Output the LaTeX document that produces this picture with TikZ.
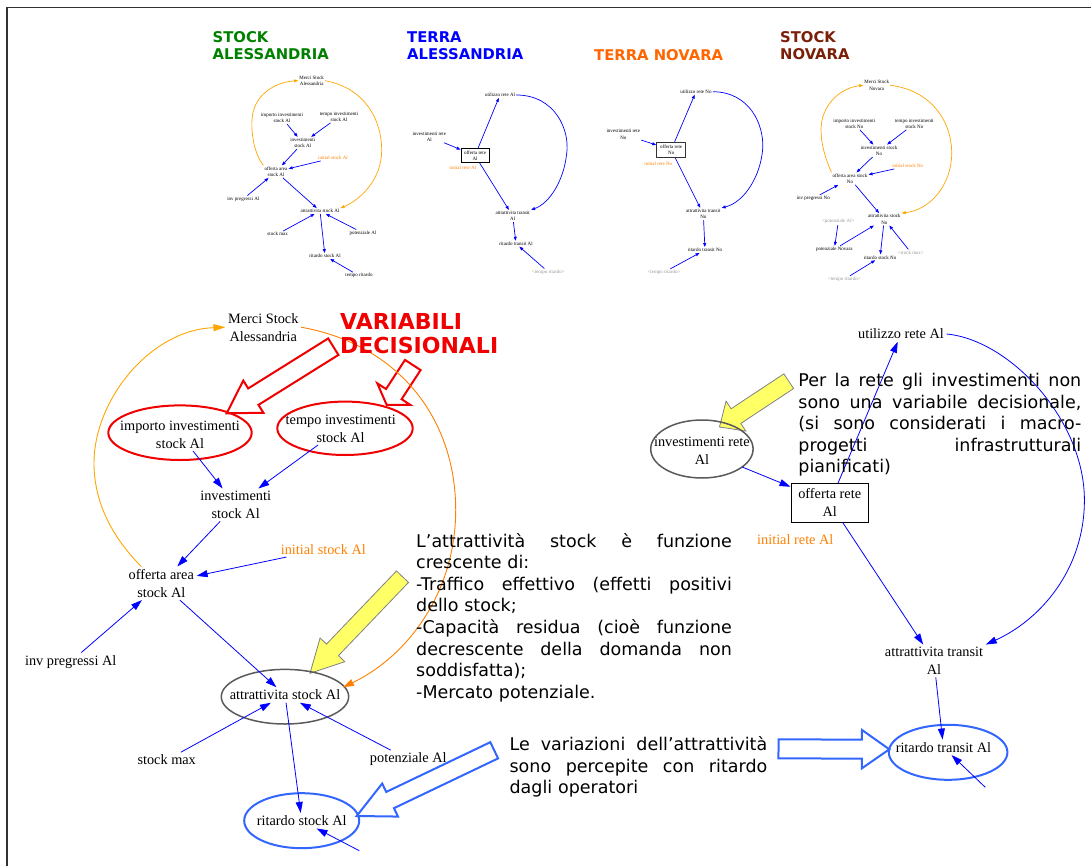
\documentclass[tikz,border=0pt]{standalone}
\usepackage{fontspec}
\setmainfont{Liberation Serif}
\newfontfamily\vsans{DejaVu Sans}
\usetikzlibrary{arrows.meta}
\definecolor{arrblue}{RGB}{0,0,255}
\definecolor{lblue}{RGB}{51,102,255}
\definecolor{oarcA}{RGB}{255,165,0}
\definecolor{oarcB}{RGB}{255,128,0}
\definecolor{otext}{RGB}{255,128,0}
\definecolor{ellgray}{RGB}{90,90,90}
\definecolor{redv}{RGB}{240,0,0}
\definecolor{yfill}{RGB}{255,255,102}
\definecolor{tgreen}{RGB}{0,128,0}
\definecolor{tblue}{RGB}{0,0,255}
\definecolor{torange}{RGB}{255,102,0}
\definecolor{tbrown}{RGB}{122,32,8}
\definecolor{ghost}{RGB}{150,150,150}
\definecolor{framec}{RGB}{50,50,50}
% justified line of given width
\newcommand{\jline}[2]{\leavevmode\hbox to #1{\spaceskip=0.32em plus 1fil minus 0.12em\relax #2}}
% block arrow: #1 style, (#2,#3) tail, (#4,#5) tip, #6 shaft half width, #7 head half width, #8 head length
\newcommand{\blockarrow}[8]{%
  \pgfmathsetmacro\BAl{veclen(#4-#2,#5-#3)}%
  \pgfmathsetmacro\BAux{(#4-#2)/\BAl}%
  \pgfmathsetmacro\BAuy{(#5-#3)/\BAl}%
  \pgfmathsetmacro\BAhx{#4-#8*\BAux}%
  \pgfmathsetmacro\BAhy{#5-#8*\BAuy}%
  \draw[#1] ({#2-#6*\BAuy},{#3+#6*\BAux}) -- ({\BAhx-#6*\BAuy},{\BAhy+#6*\BAux}) -- ({\BAhx-#7*\BAuy},{\BAhy+#7*\BAux}) -- (#4,#5) -- ({\BAhx+#7*\BAuy},{\BAhy-#7*\BAux}) -- ({\BAhx+#6*\BAuy},{\BAhy-#6*\BAux}) -- ({#2+#6*\BAuy},{#3-#6*\BAux}) -- cycle;}
\begin{document}
\begin{tikzpicture}[x=1pt,y=-1pt,
  sm/.style={font=\fontsize{5}{6.5}\selectfont, align=center, inner sep=1pt},
  tx/.style={font=\fontsize{14.3}{18}\selectfont, align=center, inner sep=2.5pt},
  ttl/.style={font=\vsans\bfseries\fontsize{14.8}{17}\selectfont, align=left, anchor=west, inner sep=0pt},
  para/.style={font=\vsans\fontsize{17.5}{21.6}\selectfont, align=left, anchor=base west, inner sep=0pt},
  sarr/.style={draw=arrblue, line width=0.7pt, -{Triangle[length=4pt,width=3pt]}},
  soarr/.style={draw=oarcA, line width=0.7pt, -{Triangle[length=4pt,width=3pt]}},
  barr/.style={draw=arrblue, line width=0.8pt, -{Triangle[length=11pt,width=7pt]}},
  oarrA/.style={draw=oarcA, line width=0.9pt, -{Triangle[length=12pt,width=7pt]}},
  oarrB/.style={draw=oarcB, line width=0.9pt, -{Triangle[length=11pt,width=7pt]}},
  redell/.style={draw=redv, line width=2pt},
  grayell/.style={draw=ellgray, line width=1.5pt},
  blueell/.style={draw=lblue, line width=2pt},
  redbarrow/.style={draw=redv, fill=white, line width=2pt, line join=miter},
  bluebarrow/.style={draw=lblue, fill=white, line width=2pt, line join=miter},
  ybarrow/.style={draw=gray, fill=yfill, line width=0.8pt, line join=miter},
]
\useasboundingbox (0,0) rectangle (1091,866);
\draw[framec, line width=1.5pt] (6.8,866) -- (6.8,7.3) -- (1091,7.3);

% ---------- titles ----------
\node[ttl, text=tgreen] (t1) at (212.5,46) {STOCK\\ALESSANDRIA};
\node[ttl, text=tblue] (t2) at (407,46) {TERRA\\ALESSANDRIA};
\node[ttl, text=torange] (t3) at (594,54.7) {TERRA NOVARA};
\node[ttl, text=tbrown] (t4) at (780,46) {STOCK\\NOVARA};

% ---------- small diagram 1 ----------
\node[sm] (a1merci) at (311.7,80.7) {Merci Stock\\Alessandria};
\node[sm] (a1imp) at (282,118) {importo investimenti\\stock Al};
\node[sm] (a1tempo) at (339,116.7) {tempo investimenti\\stock Al};
\node[sm] (a1inv) at (302.7,143) {investimenti\\stock Al};
\node[sm, text=otext] (a1init) at (333,158) {initial stock Al};
\node[sm] (a1off) at (276,171.7) {offerta area\\stock Al};
\node[sm] (a1pre) at (243.3,199) {inv pregressi Al};
\node[sm] (a1att) at (320,211) {attrattivita stock Al};
\node[sm] (a1max) at (277.7,234) {stock max};
\node[sm] (a1pot) at (363,233) {potenziale Al};
\node[sm] (a1rit) at (325,256) {ritardo stock Al};
\node[sm] (a1tr) at (359,275.7) {tempo ritardo};
\draw[sarr] (a1imp) -- (a1inv);
\draw[sarr] (a1tempo) -- (a1inv);
\draw[sarr] (a1inv) -- (a1off);
\draw[sarr] (a1init) -- (a1off);
\draw[sarr] (a1pre) -- (a1off);
\draw[sarr] (a1off) -- (a1att);
\draw[sarr] (a1max) -- (a1att);
\draw[sarr] (a1pot) -- (a1att);
\draw[sarr] (a1att) -- (a1rit);
\draw[sarr] (a1tr) -- (a1rit);
\draw[soarr] (a1off.north west) .. controls (255,155) and (251,135) .. (252,120) .. controls (253,95) and (275,82) .. (a1merci.west);
\draw[soarr] (a1merci.east) .. controls (365,88) and (381.7,120) .. (381.7,150) .. controls (381.7,180) and (360,200) .. (a1att.north east);

% ---------- small diagram 2 ----------
\node[sm] (b1util) at (500,95) {utilizzo rete Al};
\node[sm] (b1inv) at (429.3,136.7) {investimenti rete\\Al};
\node[sm, draw=black, line width=0.8pt, minimum width=28pt, minimum height=14.4pt] (b1off) at (475,155.5) {offerta rete\\Al};
\node[sm, text=otext] (b1init) at (462.7,167.7) {initial rete Al};
\node[sm] (b1att) at (512.7,216) {attrattivita transit\\Al};
\node[sm] (b1rit) at (516,243.7) {ritardo transit Al};
\node[sm, text=ghost] (b1tr) at (548.3,272) {<tempo ritardo>};
\draw[sarr] (b1inv) -- (b1off);
\draw[sarr] (b1off) -- (b1util);
\draw[sarr] (b1off) -- (b1att);
\draw[sarr] (b1util.east) .. controls (555,95) and (570,130) .. (566.7,153.3) .. controls (564,180) and (550,203) .. (b1att.north east);
\draw[sarr] (b1att) -- (b1rit);
\draw[sarr] (b1tr) -- (b1rit);

% ---------- small diagram 3 ----------
\node[sm] (c1util) at (696,91.7) {utilizzo rete No};
\node[sm] (c1inv) at (623.3,134.3) {investimenti rete\\No};
\node[sm, draw=black!80, line width=1pt, minimum width=29pt, minimum height=15pt] (c1off) at (671.2,149.8) {offerta rete\\No};
\node[sm, text=otext] (c1init) at (658.3,163.3) {initial rete No};
\node[sm] (c1att) at (703.3,214) {attrattivita transit\\No};
\node[sm] (c1rit) at (705,250) {ritardo transit No};
\node[sm, text=ghost] (c1tr) at (664,272.3) {<tempo ritardo>};
\draw[sarr] (c1inv) -- (c1off);
\draw[sarr] (c1off) -- (c1util);
\draw[sarr] (c1off) -- (c1att);
\draw[sarr] (c1util.east) .. controls (750,92) and (764,125) .. (762.7,148.3) .. controls (761,175) and (745,202) .. (c1att.north east);
\draw[sarr] (c1att) -- (c1rit);
\draw[sarr] (c1tr) -- (c1rit);

% ---------- small diagram 4 ----------
\node[sm] (d1merci) at (876.7,85.3) {Merci Stock\\Novara};
\node[sm] (d1imp) at (854.3,123.7) {importo investimenti\\stock No};
\node[sm] (d1tempo) at (914.3,123.7) {tempo investimenti\\stock No};
\node[sm] (d1inv) at (879,150.8) {investimenti stock\\No};
\node[sm, text=otext] (d1init) at (907.7,166) {initial stock No};
\node[sm] (d1off) at (850,178.7) {offerta area stock\\No};
\node[sm] (d1pre) at (813.3,198.3) {inv pregressi No};
\node[sm] (d1att) at (884.3,219.3) {attrattivita stock\\No};
\node[sm, text=ghost] (d1potal) at (838.3,221.7) {<potenziale Al>};
\node[sm] (d1pot) at (834.3,249.3) {potenziale Novara};
\node[sm] (d1rit) at (880,257.3) {ritardo stock No};
\node[sm, text=ghost] (d1max) at (910.7,252.3) {<stock max>};
\node[sm, text=ghost] (d1tr) at (844.3,279.3) {<tempo ritardo>};
\draw[sarr] (d1imp) -- (d1inv);
\draw[sarr] (d1tempo) -- (d1inv);
\draw[sarr] (d1inv) -- (d1off);
\draw[sarr] (d1init) -- (d1off);
\draw[sarr] (d1pre) -- (d1off);
\draw[sarr] (d1off) -- (d1att);
\draw[sarr] (d1potal) -- (d1pot);
\draw[sarr] (d1pot) -- (d1att);
\draw[sarr] (d1att) -- (d1rit);
\draw[sarr] (d1max) -- (d1att);
\draw[sarr] (d1tr) -- (d1rit);
\draw[soarr] (d1off.north west) .. controls (826,160) and (821,145) .. (821,130) .. controls (821,105) and (840,88) .. (d1merci.west);
\draw[soarr] (d1merci.east) .. controls (930,90) and (951.7,120) .. (951.7,153.3) .. controls (951.7,185) and (930,210) .. (d1att.north east);

% ---------- block arrows ----------
\blockarrow{redbarrow}{333.3}{346.7}{226.7}{413.3}{9.7}{19}{31.4}
\blockarrow{redbarrow}{412.8}{365}{386.7}{405}{9.3}{19.7}{13}
\blockarrow{ybarrow}{402.5}{576.7}{310}{673.3}{8.3}{17.1}{32.4}
\blockarrow{ybarrow}{788.7}{381.2}{719.5}{427}{8.8}{17.9}{19.7}
\blockarrow{bluebarrow}{494.2}{750.3}{356.7}{816}{9}{18.3}{37}
\blockarrow{bluebarrow}{778.5}{748.8}{889.3}{749.3}{9.5}{19.2}{27.4}

% ---------- large stock diagram ----------
\node[tx] (merci) at (263.3,327.2) {Merci Stock\\Alessandria};
\node[tx] (imp) at (180,434.5) {importo investimenti\\stock Al};
\draw[redell] (180,432.7) ellipse [x radius=71.7, y radius=27.3];
\node[tx] (tempo) at (340.7,428.5) {tempo investimenti\\stock Al};
\draw[redell] (345,428.3) ellipse [x radius=67.7, y radius=26.7];
\node[tx] (inv) at (235.7,505) {investimenti\\stock Al};
\node[tx, text=otext] (init) at (323.3,549.3) {initial stock Al};
\node[tx] (off) at (161.3,583.3) {offerta area\\stock Al};
\node[tx] (pre) at (70.7,661.7) {inv pregressi Al};
\node[tx] (att) at (285,695) {attrattivita stock Al};
\draw[grayell] (285,696.7) ellipse [x radius=63.7, y radius=27.3];
\node[tx] (smax) at (166.7,760) {stock max};
\node[tx] (pot) at (408.3,759.3) {potenziale Al};
\node[tx] (rit) at (301.7,820.7) {ritardo stock Al};
\draw[blueell] (301.7,820.7) ellipse [x radius=57.5, y radius=27.5];
\coordinate (ritin) at (359.3,850.7);
\draw[barr] (imp) -- (inv);
\draw[barr] (tempo) -- (inv);
\draw[barr] (inv) -- (off);
\draw[barr] (init) -- (off);
\draw[barr] (pre) -- (off);
\draw[barr] (off) -- (att);
\draw[barr] (smax) -- (att);
\draw[barr] (pot) -- (att);
\draw[barr] (att) -- (rit);
\draw[barr] (ritin) -- (rit);
\draw[oarrA] (off.140) .. controls (110,535) and (94,500) .. (94,463) .. controls (94,400) and (150,330) .. (merci.west);
\draw[oarrB] (merci.east) .. controls (400,345) and (455.7,420) .. (455.7,510) .. controls (455.7,590) and (410,655) .. (att.north east);

\node[font=\vsans\bfseries\fontsize{22}{24.3}\selectfont, text=redv, align=left, anchor=west, inner sep=0pt] (vd) at (340,333.9) {VARIABILI\\DECISIONALI};

% ---------- large transit diagram ----------
\node[tx] (util) at (901,334) {utilizzo rete Al};
\node[tx] (rinv) at (701.9,450.5) {investimenti rete\\Al};
\draw[grayell] (701.9,449) ellipse [x radius=51.2, y radius=29];
\node[tx, draw=black, line width=0.8pt, minimum width=77.6pt, minimum height=39pt] (roff) at (829.7,502.8) {offerta rete\\Al};
\node[tx, text=otext] (rinit) at (795.3,539.3) {initial rete Al};
\node[tx] (ratt) at (934,661) {attrattivita transit\\Al};
\node[tx] (rrit) at (943.4,747.3) {ritardo transit Al};
\draw[blueell] (948.1,752.3) ellipse [x radius=59.3, y radius=27.5];
\coordinate (rritin) at (985.3,787.3);
\draw[barr] (rinv) -- (roff);
\draw[barr] (roff) -- (util);
\draw[barr] (roff) -- (ratt);
\draw[barr] (util.east) .. controls (1010,340) and (1084.4,420) .. (1084.4,500) .. controls (1084.4,570) and (1040,620) .. (ratt.north east);
\draw[barr] (ratt) -- (rrit);
\draw[barr] (rritin) -- (rrit);

% ---------- text blocks ----------
\node[para, text width=315.7pt] (txt1) at (416,547) {\jline{315.7pt}{L’attrattività stock è funzione}\\
crescente di:\\
\jline{315.7pt}{-Traffico effettivo (effetti positivi}\\
dello stock;\\
\jline{315.7pt}{-Capacità residua (cioè funzione}\\
\jline{315.7pt}{decrescente della domanda non}\\
soddisfatta);\\
-Mercato potenziale.};
\node[para, text width=282.9pt] (txt2) at (798.2,386.5) {\jline{282.9pt}{Per la rete gli investimenti non}\\
\jline{282.9pt}{sono una variabile decisionale,}\\
\jline{282.9pt}{(si sono considerati i macro-}\\
\jline{282.9pt}{progetti infrastrutturali}\\
pianificati)};
\node[para, text width=257.7pt] (txt3) at (509.4,750.5) {\jline{257.7pt}{Le variazioni dell’attrattività}\\
\jline{257.7pt}{sono percepite con ritardo}\\
dagli operatori};
\end{tikzpicture}
\end{document}
